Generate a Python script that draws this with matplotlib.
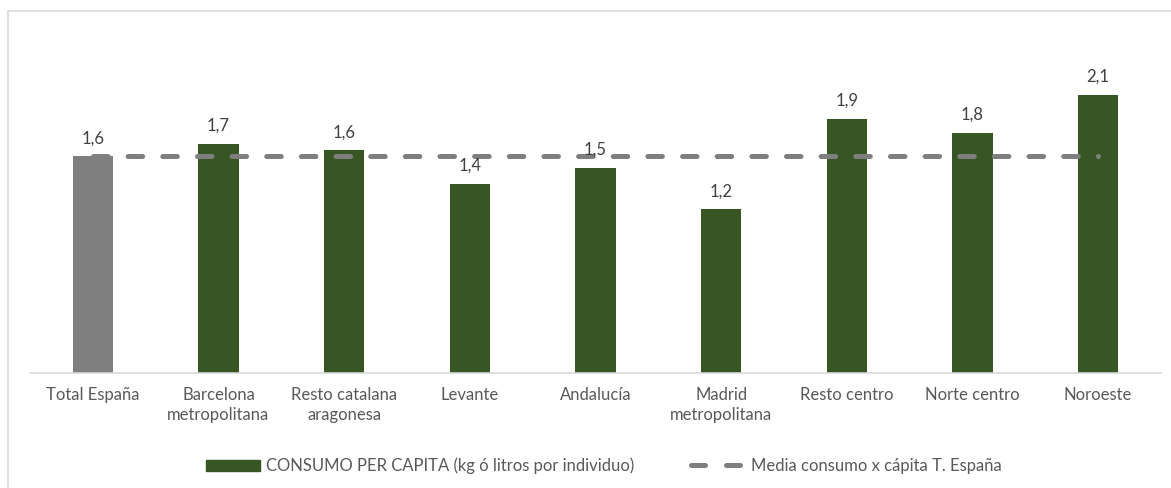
import matplotlib
matplotlib.use("Agg")
import matplotlib.pyplot as plt
from matplotlib.lines import Line2D
from matplotlib.patches import Patch

plt.rcParams['font.family'] = ['Lato', 'DejaVu Sans']

categories = ["Total España", "Barcelona\nmetropolitana", "Resto catalana\naragonesa",
              "Levante", "Andalucía", "Madrid\nmetropolitana", "Resto centro",
              "Norte centro", "Noroeste"]
consumo = [1.60, 1.69, 1.645, 1.40, 1.515, 1.21, 1.88, 1.775, 2.055]
media = [1.60, 1.60, 1.60, 1.60, 1.60, 1.60, 1.60, 1.60, 1.60]
labels = ["1,6", "1,7", "1,6", "1,4", "1,5", "1,2", "1,9", "1,8", "2,1"]

green = "#375623"
grey = "#7f7f7f"
colors = [grey] + [green] * (len(categories) - 1)

fig = plt.figure(figsize=(11.71, 4.88), dpi=100)
ax = fig.add_axes([30/1171, (488-373.3)/488, 1131/1171, 338.8/488])

x = list(range(len(categories)))
ax.bar(x, consumo, width=0.32, color=colors, zorder=2)
ax.plot(x, media, color=grey, lw=3.6, dashes=(2.9, 4.03), dash_capstyle='round',
        solid_capstyle='round', zorder=3)

for xi, v, lab in zip(x, consumo, labels):
    ax.annotate(lab, (xi, v), xytext=(0, 9.5), textcoords='offset points',
                ha='center', va='baseline', fontsize=12, color='#404040', zorder=4)

ax.set_xlim(-0.5, len(categories) - 0.5)
ax.set_ylim(0, 2.5)
ax.set_xticks(x)
ax.set_xticklabels(categories, fontsize=12, color='#595959', linespacing=1.3)
ax.tick_params(axis='x', length=0, pad=10)
ax.set_yticks([])
for s in ['top', 'right', 'left']:
    ax.spines[s].set_visible(False)
ax.spines['bottom'].set_color('#d9d9d9')
ax.spines['bottom'].set_linewidth(1.2)

handles = [Patch(facecolor=green, edgecolor=green),
           Line2D([0], [0], color=grey, lw=3.6, dashes=(2.8, 4.2),
                  dash_capstyle='round')]
leg = fig.legend(handles, ["CONSUMO PER CAPITA (kg ó litros por individuo)",
                           "Media consumo x cápita T. España"],
                 loc='center', bbox_to_anchor=(604/1171, (488-466)/488), ncol=2,
                 frameon=False, fontsize=12, handlelength=3.2, handleheight=0.7,
                 handletextpad=0.4, columnspacing=3.4)
for t in leg.get_texts():
    t.set_color('#595959')

# chart area border (partially cropped)
fig.add_artist(Line2D([7.5/1171, 1], [1-10.5/488, 1-10.5/488],
                      transform=fig.transFigure, color='#d9d9d9', lw=1.2))
fig.add_artist(Line2D([7.5/1171, 7.5/1171], [0, 1-10.5/488],
                      transform=fig.transFigure, color='#d9d9d9', lw=1.2))

fig.savefig("out.png", dpi=100, facecolor='white')
